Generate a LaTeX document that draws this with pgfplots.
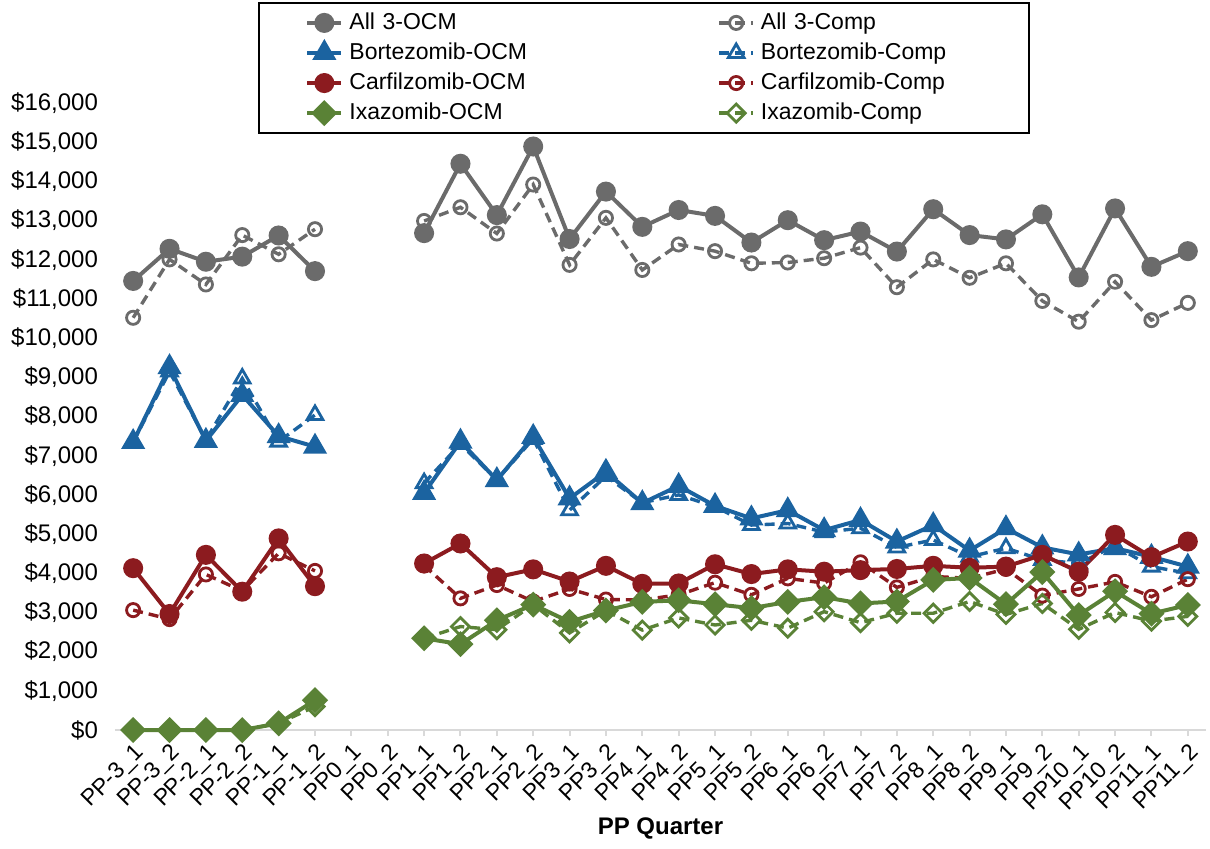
\documentclass[border=0pt]{standalone}
\usepackage{pgfplots}
\usepackage{pgfplotstable}
\pgfplotsset{compat=1.18}
\usepackage{fontspec}
\setmainfont{Liberation Sans}

\definecolor{allgray}{HTML}{6B6B6B}
\definecolor{bortblue}{HTML}{1B63A0}
\definecolor{carfred}{HTML}{8C1B1F}
\definecolor{ixagreen}{HTML}{5A8236}
\definecolor{axisgray}{HTML}{D9D9D9}

% Mean cost per patient by PP quarter (PP0 quarters have no data)
\pgfplotstableread{
x  a3o   a3c   bo   bc   co   cc   io   ic
0  11460 10520 7350 7350 4130 3060 0    0
1  12280 12010 9260 9150 2960 2830 0    0
2  11950 11370 7380 7400 4470 3970 0    0
3  12080 12630 8550 8970 3530 3550 0    0
4  12620 12140 7500 7360 4890 4510 170  170
5  11710 12780 7230 8040 3670 4060 760  600
6  nan   nan   nan  nan  nan  nan  nan  nan
7  nan   nan   nan  nan  nan  nan  nan  nan
8  12680 12990 6050 6300 4250 4200 2340 2340
9  14450 13340 7360 7300 4760 3360 2190 2640
10 13140 12670 6380 6380 3900 3700 2800 2560
11 14890 13920 7480 7430 4100 3280 3200 3200
12 12530 11870 5910 5610 3790 3600 2760 2480
13 13740 13070 6590 6480 4190 3330 3050 3050
14 12840 11740 5790 5800 3730 3320 3270 2550
15 13270 12390 6230 6000 3740 3450 3310 2860
16 13120 12220 5720 5700 4230 3760 3210 2680
17 12440 11910 5400 5230 3980 3450 3110 2800
18 13010 11930 5610 5270 4100 3870 3270 2600
19 12500 12040 5100 5050 4040 3750 3390 3020
20 12720 12310 5360 5150 4080 4280 3230 2740
21 12210 11300 4810 4660 4110 3640 3280 2980
22 13290 12010 5230 4850 4190 3920 3830 2980
23 12630 11540 4580 4420 4140 3870 3880 3280
24 12520 11910 5150 4640 4170 4110 3210 2950
25 13160 10950 4660 4340 4470 3430 4030 3230
26 11550 10420 4480 4250 4040 3600 2930 2570
27 13310 11440 4640 4700 4980 3780 3540 3000
28 11820 10460 4420 4170 4410 3400 2970 2780
29 12220 10900 4170 4000 4810 3850 3190 2900
}\costdata

\pgfplotsset{
  ocm/.style={solid, line width=2pt, mark options={solid}},
  comp/.style={line width=1.7pt, dash pattern=on 5pt off 3pt,
    mark options={solid, fill=white, line width=1.4pt}},
}

\begin{document}
\begin{tikzpicture}
\begin{axis}[
  scale only axis,
  width=545.5pt, height=313.5pt,
  xmin=-0.5, xmax=29.5,
  ymin=0, ymax=16000,
  clip=false,
  unbounded coords=jump,
  axis lines*=left,
  x axis line style={draw=axisgray, line width=1pt},
  y axis line style={draw=none},
  xtick={0,...,29},
  xticklabels={PP-3\_1,PP-3\_2,PP-2\_1,PP-2\_2,PP-1\_1,PP-1\_2,PP0\_1,PP0\_2,PP1\_1,PP1\_2,PP2\_1,PP2\_2,PP3\_1,PP3\_2,PP4\_1,PP4\_2,PP5\_1,PP5\_2,PP6\_1,PP6\_2,PP7\_1,PP7\_2,PP8\_1,PP8\_2,PP9\_1,PP9\_2,PP10\_1,PP10\_2,PP11\_1,PP11\_2},
  xtick style={draw=axisgray, line width=1pt},
  tick align=outside,
  major tick length=3pt,
  ytick={0,1000,...,16000},
  ytick style={draw=none},
  scaled y ticks=false,
  yticklabel={\$\pgfmathprintnumber{\tick}},
  /pgf/number format/.cd, fixed, precision=0, 1000 sep={,}, assume math mode=true,
  /pgfplots/.cd,
  tick label style={font=\fontsize{12}{14}\selectfont},
  yticklabel style={xshift=-2pt},
  xticklabel style={rotate=45, anchor=north east, inner sep=2pt, font=\fontsize{11.5}{13}\selectfont},
  xlabel={\bfseries PP Quarter},
  xlabel style={font=\fontsize{12}{14}\selectfont, yshift=5pt},
  legend columns=2,
  legend cell align=left,
  legend style={
    at={(0.485,1.161)}, anchor=north,
    draw=black, line width=1pt, fill=white,
    font=\fontsize{11.5}{13}\selectfont,
    inner xsep=23pt, inner ysep=3pt,
    row sep=1.2pt,
    nodes={text width=108pt, inner xsep=3pt},
    /tikz/every even column/.append style={column sep=73pt},
  },
]
\addplot[ocm, color=allgray, mark=*, mark size=4pt] table[x=x, y=a3o] {\costdata};
\addlegendentry{All 3-OCM}
\addplot[comp, color=allgray, mark=o, mark size=3.3pt] table[x=x, y=a3c] {\costdata};
\addlegendentry{All 3-Comp}
\addplot[ocm, color=bortblue, mark=triangle*, mark size=5pt] table[x=x, y=bo] {\costdata};
\addlegendentry{Bortezomib-OCM}
\addplot[comp, color=bortblue, mark=triangle, mark size=4.5pt] table[x=x, y=bc] {\costdata};
\addlegendentry{Bortezomib-Comp}
\addplot[ocm, color=carfred, mark=*, mark size=4pt] table[x=x, y=co] {\costdata};
\addlegendentry{Carfilzomib-OCM}
\addplot[comp, color=carfred, mark=o, mark size=3.3pt] table[x=x, y=cc] {\costdata};
\addlegendentry{Carfilzomib-Comp}
\addplot[ocm, color=ixagreen, mark=square*, mark size=3.6pt, mark options={solid, rotate=45}] table[x=x, y=io] {\costdata};
\addlegendentry{Ixazomib-OCM}
\addplot[comp, color=ixagreen, mark=square, mark size=3.2pt, mark options={solid, fill=white, line width=1.4pt, rotate=45}] table[x=x, y=ic] {\costdata};
\addlegendentry{Ixazomib-Comp}
\coordinate (bbl) at (rel axis cs:-0.1054,-0.1882);
\coordinate (btr) at (rel axis cs:1.0037,1.1643);
\end{axis}
\pgfresetboundingbox
\path[use as bounding box] (bbl) rectangle (btr);
\end{tikzpicture}
\end{document}
